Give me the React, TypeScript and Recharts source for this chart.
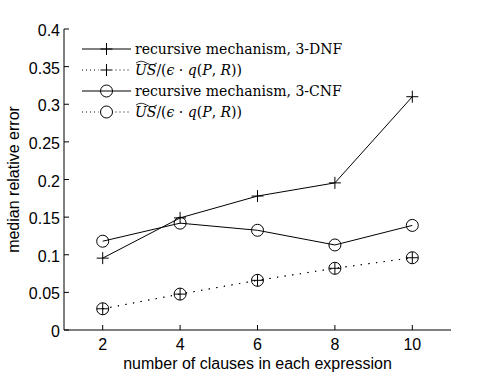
import React from "react";
import { LineChart, Line, XAxis, YAxis, Legend } from "recharts";

const clauses = [2, 4, 6, 8, 10];
const dnfRecursive = [0.0955, 0.149, 0.178, 0.1955, 0.31];
const dnfUS = [0.0282, 0.0477, 0.066, 0.082, 0.096];
const cnfRecursive = [0.118, 0.142, 0.1325, 0.113, 0.139];
const cnfUS = [0.0282, 0.0477, 0.066, 0.082, 0.096];
const xTicks = [2, 4, 6, 8, 10];
const yTicks = [0, 0.05, 0.1, 0.15, 0.2, 0.25, 0.3, 0.35, 0.4];
const legendLabels = ["recursive mechanism, 3-DNF", "US", "recursive mechanism, 3-CNF", "US"];

const data = clauses.map((c, i) => ({
  x: c,
  dnfR: dnfRecursive[i],
  dnfU: dnfUS[i],
  cnfR: cnfRecursive[i],
  cnfU: cnfUS[i],
}));

const SANS = "'Liberation Sans', Arial, sans-serif";
const SERIF = "'DejaVu Serif', 'Liberation Serif', serif";
const FS = 16;

const PlusDot = (props: any) => {
  const { cx, cy } = props;
  if (cx == null || cy == null) return null;
  return (
    <g>
      <line x1={cx - 6} x2={cx + 6} y1={cy} y2={cy} stroke="#000" strokeWidth={1} />
      <line x1={cx} x2={cx} y1={cy - 6} y2={cy + 6} stroke="#000" strokeWidth={1} />
    </g>
  );
};

const CircleDot = (props: any) => {
  const { cx, cy } = props;
  if (cx == null || cy == null) return null;
  return <circle cx={cx} cy={cy} r={6} fill="none" stroke="#000" strokeWidth={1} />;
};

const fmt = (v: number) => String(+v.toFixed(2));

const YTick = (props: any) => {
  const { x, y, payload } = props;
  return (
    <g>
      <line x1={x + 4} x2={x + 9} y1={y} y2={y} stroke="#000" strokeWidth={1} />
      <text x={x} y={y} dy={7} textAnchor="end" fontFamily={SANS} fontSize={FS} fill="#000">
        {fmt(payload.value)}
      </text>
    </g>
  );
};

const XTick = (props: any) => {
  const { x, y, payload } = props;
  return (
    <g>
      <line x1={x} x2={x} y1={y - 6} y2={y - 11} stroke="#000" strokeWidth={1} />
      <text x={x} y={y} dy={14} textAnchor="middle" fontFamily={SANS} fontSize={FS} fill="#000">
        {payload.value}
      </text>
    </g>
  );
};

const YLabel = (props: any) => {
  const vb = props.viewBox || {};
  const cx = 13.5;
  const cy = (vb.y ?? 29) + (vb.height ?? 301) / 2;
  return (
    <text x={cx} y={cy} transform={`rotate(-90 ${cx} ${cy})`} textAnchor="middle" dominantBaseline="central" fontFamily={SANS} fontSize={FS} fill="#000">
      median relative error
    </text>
  );
};

const XLabel = (props: any) => {
  const vb = props.viewBox || {};
  const cx = (vb.x ?? 64) + (vb.width ?? 387) / 2;
  return (
    <text x={cx} y={369} textAnchor="middle" fontFamily={SANS} fontSize={FS} fill="#000">
      number of clauses in each expression
    </text>
  );
};

const USLabel = ({ x, y }: { x: number; y: number }) => (
  <g>
    <path
      d={`M${x + 1},${y - 12} q5,-3.5 10.5,0 t10.5,0`}
      fill="none"
      stroke="#000"
      strokeWidth={0.8}
    />
    <text x={x} y={y} fontFamily={SERIF} fontSize={14} fill="#000">
      <tspan fontStyle="italic">US</tspan>
      <tspan>/(</tspan>
      <tspan fontStyle="italic">ϵ</tspan>
      <tspan> · </tspan>
      <tspan fontStyle="italic">q</tspan>
      <tspan>(</tspan>
      <tspan fontStyle="italic">P</tspan>
      <tspan>, </tspan>
      <tspan fontStyle="italic">R</tspan>
      <tspan>))</tspan>
    </text>
  </g>
);

const LegendContent = () => {
  const rows = [14, 35, 56, 77];
  const lx1 = 12;
  const lx2 = 61;
  const mx = 36.5;
  const tx = 65;
  return (
    <svg width={210} height={92} style={{ display: "block", overflow: "visible" }}>
      {rows.map((ry, i) => {
        const dotted = i % 2 === 1;
        const marker = i < 2 ? <PlusDot cx={mx} cy={ry} /> : <CircleDot cx={mx} cy={ry} />;
        return (
          <g key={i}>
            {dotted ? (
              <>
                <line x1={lx1} x2={mx - 8} y1={ry} y2={ry} stroke="#000" strokeWidth={1} strokeDasharray="1 3" />
                <line x1={mx + 9} x2={lx2} y1={ry} y2={ry} stroke="#000" strokeWidth={1} strokeDasharray="1 3" />
              </>
            ) : (
              <line x1={lx1} x2={lx2} y1={ry} y2={ry} stroke="#000" strokeWidth={1} />
            )}
            {marker}
            {legendLabels[i] === "US" ? (
              <USLabel x={tx} y={ry + 5} />
            ) : (
              <text x={tx} y={ry + 5} fontFamily={SERIF} fontSize={14} fill="#000">
                {legendLabels[i]}
              </text>
            )}
          </g>
        );
      })}
    </svg>
  );
};

export default function App() {
  return (
    <div style={{ position: "absolute", left: 0, top: 0, width: 498, height: 376, background: "#fff" }}>
      <LineChart width={498} height={376} data={data} margin={{ top: 29, right: 47, bottom: 0, left: 0 }}>
        <XAxis
          dataKey="x"
          type="number"
          domain={[1, 11]}
          ticks={xTicks}
          height={46}
          tickSize={0}
          tickMargin={6}
          tickLine={false}
          axisLine={{ stroke: "#000", strokeWidth: 1 }}
          tick={<XTick />}
          label={<XLabel />}
          interval={0}
        />
        <YAxis
          type="number"
          domain={[0, 0.4]}
          ticks={yTicks}
          width={64}
          tickSize={0}
          tickMargin={4}
          tickLine={false}
          axisLine={{ stroke: "#000", strokeWidth: 1 }}
          tick={<YTick />}
          label={<YLabel />}
          interval={0}
        />
        <Legend
          layout="vertical"
          align="center"
          verticalAlign="middle"
          content={<LegendContent />}
          wrapperStyle={{ left: 70, top: 35, width: 210, height: 92 }}
        />
        <Line dataKey="dnfR" stroke="#000" strokeWidth={1} isAnimationActive={false} dot={<PlusDot />} activeDot={false} />
        <Line dataKey="dnfU" stroke="#000" strokeWidth={1} strokeDasharray="1.2 6.5" isAnimationActive={false} dot={<PlusDot />} activeDot={false} />
        <Line dataKey="cnfR" stroke="#000" strokeWidth={1} isAnimationActive={false} dot={<CircleDot />} activeDot={false} />
        <Line dataKey="cnfU" stroke="#000" strokeWidth={1} strokeDasharray="1.2 6.5" isAnimationActive={false} dot={<CircleDot />} activeDot={false} />
      </LineChart>
    </div>
  );
}
